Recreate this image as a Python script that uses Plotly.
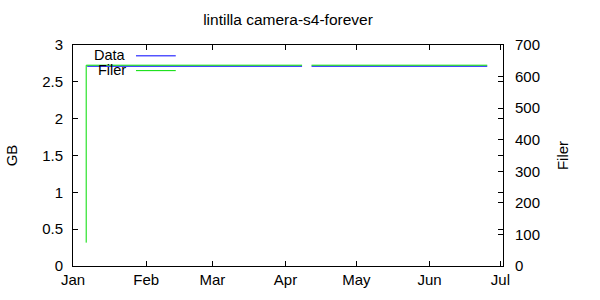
import plotly.graph_objects as go

# ---- data ----
data_dates = ["2013-01-07 00:00", "2013-04-08 00:00", "2013-04-10 00:00", "2013-04-12 00:00", "2013-06-25 10:00"]
data_gb = [2.712, 2.712, None, 2.712, 2.712]

filer_dates = ["2013-01-06 14:00", "2013-01-06 14:00", "2013-04-08 00:00", "2013-04-10 00:00", "2013-04-12 00:00", "2013-06-25 10:00"]
filer_count = [74, 636, 636, None, 636, 636]

month_ticks = ["2013-01-01", "2013-02-01", "2013-03-01", "2013-04-01", "2013-05-01", "2013-06-01", "2013-07-01"]
month_labels = ["Jan", "Feb", "Mar", "Apr", "May", "Jun", "Jul"]

gb_ticks = [0, 0.5, 1, 1.5, 2, 2.5, 3]
gb_labels = ["0", "0.5", "1", "1.5", "2", "2.5", "3"]
filer_ticks = [0, 100, 200, 300, 400, 500, 600, 700]

title = "lintilla camera-s4-forever"
series_names = ["Data", "Filer"]
colors = ["#0000ff", "#00dd00"]

FONT = "Liberation Sans, Arial, sans-serif"
FS = 15

fig = go.Figure()
fig.add_trace(go.Scatter(x=data_dates, y=data_gb, mode="lines", name=series_names[0],
                         line=dict(color=colors[0], width=1), connectgaps=False,
                         yaxis="y", showlegend=False))
fig.add_trace(go.Scatter(x=filer_dates, y=filer_count, mode="lines", name=series_names[1],
                         line=dict(color=colors[1], width=1), connectgaps=False,
                         yaxis="y2", showlegend=False))

# gnuplot-style key: text right-justified, sample line to its right
key_text_rows = [0.957, 0.886]
key_line_rows = [0.951, 0.884]
for name, col, ty, ly in zip(series_names, colors, key_text_rows, key_line_rows):
    fig.add_annotation(x=0.1256, y=ty, xref="paper", yref="paper", text=name,
                       showarrow=False, xanchor="right", yanchor="middle", borderpad=0,
                       font=dict(family=FONT, size=14.5, color="#000"))
    fig.add_shape(type="line", xref="paper", yref="paper", x0=0.1465, x1=0.239,
                  y0=ly, y1=ly, line=dict(color=col, width=1))

fig.update_layout(
    width=600, height=300,
    margin=dict(l=73, r=97, t=45, b=31),
    paper_bgcolor="white", plot_bgcolor="white",
    font=dict(family=FONT, size=FS, color="#000"),
    title=dict(text=title, x=(73 + 503) / 2 / 600, xanchor="center", y=1 - 20 / 300,
               yanchor="middle", font=dict(family=FONT, size=15.5, color="#000")),
    xaxis=dict(type="date", range=["2013-01-01", "2013-07-02 02:00"],
               tickvals=month_ticks, ticktext=month_labels,
               ticks="inside", ticklen=5, tickcolor="#000", tickwidth=1,
               showline=True, linecolor="#000", linewidth=1, mirror="ticks",
               showgrid=False, zeroline=False,
               tickfont=dict(family=FONT, size=FS)),
    yaxis=dict(range=[0, 3], tickvals=gb_ticks, ticktext=gb_labels,
               ticks="inside", ticklen=5, tickcolor="#000",
               showline=True, linecolor="#000", linewidth=1, mirror="ticks",
               showgrid=False, zeroline=False, ticklabelstandoff=6,
               title=dict(text="GB", standoff=20, font=dict(family=FONT, size=FS)),
               tickfont=dict(family=FONT, size=FS)),
    yaxis2=dict(range=[0, 700], tickvals=filer_ticks, overlaying="y", side="right",
                ticks="inside", ticklen=5, tickcolor="#000",
                showline=False, showgrid=False, zeroline=False, ticklabelstandoff=11,
                title=dict(text="Filer", standoff=18, font=dict(family=FONT, size=FS)),
                tickfont=dict(family=FONT, size=FS)),
)

fig.write_html("out.html")
